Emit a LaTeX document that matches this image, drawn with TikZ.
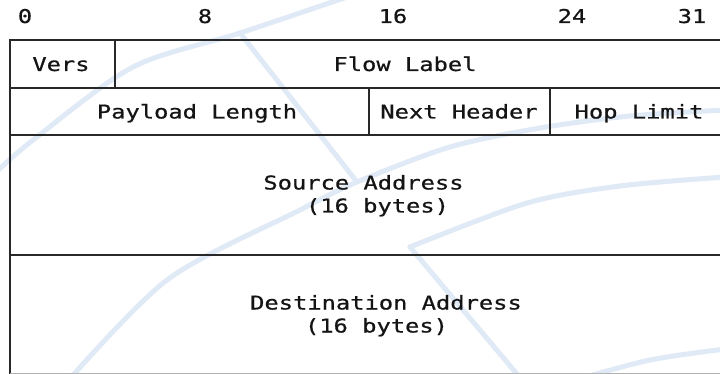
\documentclass[tikz,border=0pt]{standalone}
\usepackage{fontspec}
\newfontfamily\hdrfont[FakeStretch=1.25,FakeBold=0.7]{DejaVu Sans Mono}
\definecolor{wmark}{RGB}{224,234,246}
\definecolor{rulecol}{RGB}{40,40,40}
\tikzset{
  wm/.style={wmark, line width=5pt, line cap=round, line join=round},
  gridline/.style={rulecol, line width=1.6pt},
  lbl/.style={anchor=base, inner sep=0pt, text=black!92,
              font=\hdrfont\fontsize{19}{21}\selectfont},
}
\begin{document}
\begin{tikzpicture}[x=1pt,y=-1pt]
\useasboundingbox (0,0) rectangle (720,374);
\fill[white] (0,0) rectangle (720,374);

% faint globe watermark behind the header layout
\begin{scope}
  \clip (0,0) rectangle (720,374);
  \draw[wm] plot[smooth] coordinates {(-8,176) (33,140) (133,67) (240,33) (350,-4)};
  \draw[wm] (240,33) -- (357,182);
  \draw[wm] plot[smooth] coordinates {(60,390) (167,280) (300,210) (357,182) (450,147) (540,128) (630,116) (725,110)};
  \draw[wm] plot[smooth] coordinates {(410,247) (527,203) (620,186) (725,177)};
  \draw[wm] (410,247) -- (522,380);
  \draw[wm] plot[smooth] coordinates {(575,380) (650,360) (725,349)};
\end{scope}

% table rules
\draw[gridline] (720,40) -- (10,40) -- (10,374);
\draw[gridline] (10,88) -- (720,88);
\draw[gridline] (10,135) -- (720,135);
\draw[gridline] (10,255) -- (720,255);
\draw[gridline] (115,40) -- (115,88);
\draw[gridline] (369,88) -- (369,135);
\draw[gridline] (550,88) -- (550,135);
\draw[black!30, line width=1pt] (10,373.5) -- (720,373.5);

% bit positions
\node[lbl] (b0)  at (25,23)  {0};
\node[lbl] (b8)  at (205,23) {8};
\node[lbl] (b16) at (393,23) {16};
\node[lbl] (b24) at (572,23) {24};
\node[lbl] (b31) at (692,23) {31};

% fields
\node[lbl] (vers) at (61,71)  {Vers};
\node[lbl] (flow) at (405,71) {Flow Label};
\node[lbl] (plen) at (197,118.5) {Payload Length};
\node[lbl] (nhdr) at (459,118.5) {Next Header};
\node[lbl] (hlim) at (639,118.5) {Hop Limit};
\node[lbl] (src)  at (363.5,189.5) {Source Address};
\node[lbl] (srcb) at (377.5,212.5) {(16 bytes)};
\node[lbl] (dst)  at (386,309.5) {Destination Address};
\node[lbl] (dstb) at (376.5,332.5) {(16 bytes)};
\end{tikzpicture}
\end{document}
